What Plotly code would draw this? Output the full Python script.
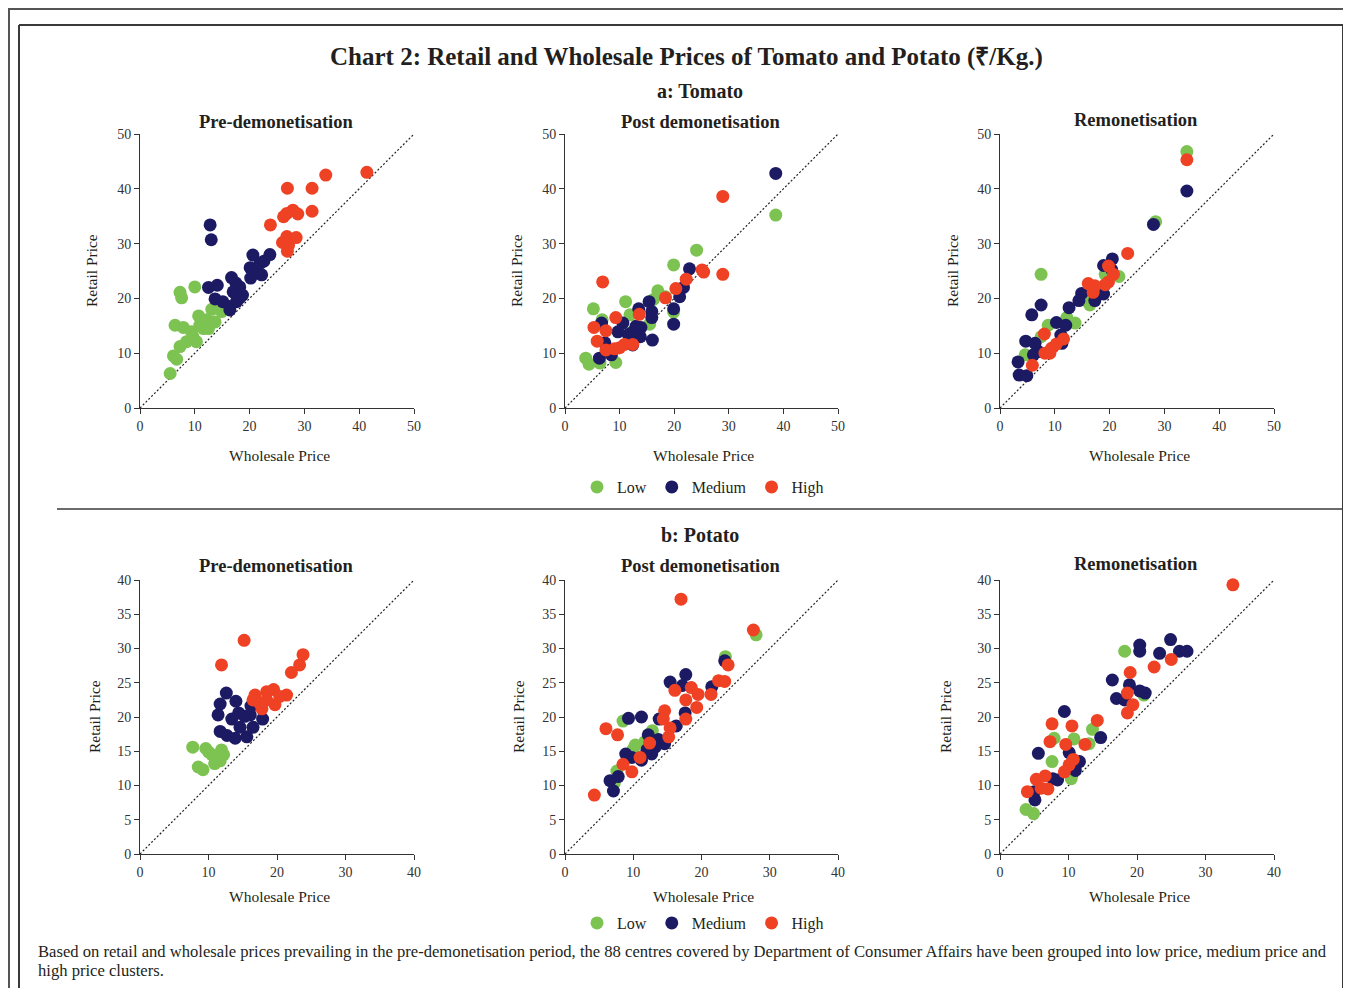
import plotly.graph_objects as go

W, H = 1351, 988

# ---------------- DATA ----------------
categories = ["Low", "Medium", "High"]
colors = ["#7dc352", "#1c1a63", "#ef4123"]
panel_titles = ["Pre-demonetisation", "Post demonetisation", "Remonetisation"]

# Tomato - Pre-demonetisation
tom_pre_low_x = [10.0, 7.3, 7.6, 10.7, 6.4, 7.9, 9.4, 11.6, 13.1, 14.3, 13.7, 12.5, 10.9, 9.7, 8.5, 10.3, 7.3, 6.1, 6.7, 5.5, 14.9, 12.2]
tom_pre_low_y = [22.1, 21.1, 20.1, 16.8, 15.1, 14.7, 13.9, 14.5, 18.0, 18.2, 15.7, 14.5, 15.1, 13.0, 12.1, 12.1, 11.2, 9.5, 8.9, 6.3, 17.6, 16.1]
tom_pre_med_x = [12.8, 13.0, 20.6, 23.7, 22.6, 21.9, 20.1, 21.3, 22.2, 20.2, 16.7, 12.5, 14.1, 17.5, 18.2, 17.0, 13.7, 15.1, 16.4, 16.4, 18.2, 17.6, 18.7]
tom_pre_med_y = [33.4, 30.7, 27.9, 28.0, 26.8, 26.4, 25.6, 25.2, 24.3, 23.7, 23.8, 22.0, 22.4, 22.8, 22.1, 21.2, 19.9, 19.4, 18.5, 17.9, 20.1, 19.4, 20.6]
tom_pre_high_x = [41.4, 33.9, 26.9, 31.4, 23.8, 26.2, 27.9, 28.8, 31.4, 26.8, 26.8, 28.5, 26.0, 26.9, 27.1]
tom_pre_high_y = [43.0, 42.5, 40.1, 40.1, 33.4, 34.9, 36.1, 35.4, 35.9, 35.5, 31.3, 31.1, 30.2, 28.6, 29.7]

# Tomato - Post demonetisation
tom_post_low_x = [38.6, 24.1, 19.9, 17.0, 18.4, 11.1, 5.2, 6.8, 15.5, 19.9, 11.9, 3.8, 4.4, 6.4, 9.3, 16.2, 12.5]
tom_post_low_y = [35.2, 28.8, 26.1, 21.4, 20.3, 19.4, 18.1, 16.1, 15.3, 17.5, 17.0, 9.1, 8.0, 8.2, 8.3, 19.8, 14.0]
tom_post_med_x = [38.6, 22.8, 21.7, 21.0, 15.4, 19.9, 19.9, 13.5, 15.9, 15.9, 16.0, 10.6, 6.7, 9.7, 13.0, 13.9, 12.2, 13.8, 7.3, 12.4, 6.3, 8.5, 11.6]
tom_post_med_y = [42.8, 25.4, 22.0, 20.3, 19.4, 18.1, 15.3, 18.1, 17.6, 16.5, 12.4, 15.5, 15.5, 13.9, 14.9, 14.7, 13.7, 13.0, 11.9, 11.5, 9.1, 9.7, 13.4]
tom_post_high_x = [28.9, 28.9, 25.1, 25.4, 22.2, 20.3, 18.4, 6.9, 13.6, 9.3, 5.3, 7.5, 5.9, 7.5, 9.1, 10.9, 12.4, 10.0]
tom_post_high_y = [38.6, 24.4, 25.2, 24.8, 23.5, 21.8, 20.1, 23.0, 17.1, 16.5, 14.7, 14.1, 12.2, 10.6, 10.8, 11.6, 11.6, 11.0]

# Tomato - Remonetisation
tom_rem_low_x = [34.1, 28.4, 7.5, 21.7, 16.4, 8.8, 13.7, 12.2, 7.5, 4.6, 15.5, 19.2]
tom_rem_low_y = [46.8, 34.0, 24.4, 24.0, 18.8, 15.1, 15.5, 16.5, 13.0, 9.7, 19.7, 24.4]
tom_rem_med_x = [34.1, 28.0, 20.5, 18.9, 20.4, 7.5, 5.8, 12.6, 14.9, 14.4, 17.3, 18.9, 10.3, 12.0, 4.7, 6.4, 7.0, 11.1, 11.3, 3.3, 3.5, 4.9, 6.1]
tom_rem_med_y = [39.6, 33.5, 27.2, 26.0, 25.2, 18.8, 17.0, 18.3, 20.9, 19.6, 19.6, 20.8, 15.6, 15.1, 12.2, 11.8, 10.3, 13.3, 11.8, 8.4, 6.0, 5.9, 9.7]
tom_rem_high_x = [34.1, 23.3, 19.8, 20.7, 19.8, 19.2, 16.1, 17.3, 17.0, 8.1, 5.9, 8.2, 9.4, 10.3, 11.6, 9.1]
tom_rem_high_y = [45.3, 28.2, 25.9, 24.4, 23.0, 22.5, 22.7, 22.3, 21.1, 13.5, 7.8, 10.0, 10.9, 11.7, 12.6, 10.0]

# Potato - Pre-demonetisation
pot_pre_low_x = [7.7, 9.6, 11.9, 10.5, 12.2, 10.9, 8.5, 9.2, 11.7, 10.0]
pot_pre_low_y = [15.6, 15.4, 15.2, 14.5, 14.5, 13.2, 12.7, 12.3, 13.6, 14.9]
pot_pre_med_x = [12.6, 11.7, 14.0, 16.2, 11.4, 14.4, 13.4, 17.9, 15.3, 11.7, 12.7, 13.9, 15.6, 14.6, 16.5, 16.1]
pot_pre_med_y = [23.5, 21.9, 22.3, 21.6, 20.3, 20.6, 19.7, 19.7, 20.1, 17.9, 17.3, 16.9, 17.1, 18.5, 18.5, 20.3]
pot_pre_high_x = [15.2, 11.9, 23.8, 23.3, 22.1, 21.4, 19.5, 18.5, 16.8, 16.5, 17.5, 19.7, 20.4, 18.5, 17.8]
pot_pre_high_y = [31.2, 27.6, 29.1, 27.6, 26.5, 23.2, 24.0, 23.7, 23.2, 22.5, 22.0, 21.8, 23.0, 22.5, 21.2]

# Potato - Post demonetisation
pot_post_low_x = [28.0, 23.5, 8.5, 12.8, 10.3, 10.0, 7.6, 7.2, 11.7]
pot_post_low_y = [32.0, 28.8, 19.4, 18.0, 15.9, 15.3, 12.1, 10.3, 16.4]
pot_post_med_x = [23.4, 17.7, 15.4, 17.2, 21.5, 9.3, 11.2, 13.8, 16.3, 17.6, 12.2, 13.7, 14.6, 13.2, 12.7, 11.2, 8.9, 9.8, 7.8, 6.6, 7.1, 12.0]
pot_post_med_y = [28.2, 26.2, 25.1, 24.6, 24.4, 19.8, 20.0, 19.7, 18.7, 20.6, 17.4, 16.7, 16.1, 15.6, 14.6, 13.7, 14.6, 14.1, 11.3, 10.7, 9.2, 15.2]
pot_post_high_x = [17.0, 27.6, 23.9, 22.5, 23.4, 21.4, 18.5, 19.5, 16.1, 17.7, 19.3, 17.7, 14.6, 14.4, 15.4, 15.2, 6.0, 7.7, 12.4, 11.0, 8.5, 9.8, 4.3]
pot_post_high_y = [37.2, 32.7, 27.6, 25.3, 25.2, 23.3, 24.3, 23.3, 23.9, 22.5, 21.4, 19.7, 20.9, 19.7, 18.4, 17.1, 18.3, 17.4, 16.2, 14.1, 13.1, 12.0, 8.6]

# Potato - Remonetisation
pot_rem_low_x = [18.2, 21.0, 13.5, 10.8, 7.9, 13.0, 7.6, 10.4, 3.8, 4.9]
pot_rem_low_y = [29.6, 23.2, 18.2, 16.8, 16.9, 16.1, 13.5, 11.0, 6.5, 5.9]
pot_rem_med_x = [24.9, 20.4, 20.4, 23.3, 26.2, 27.3, 16.4, 18.9, 20.4, 21.2, 17.0, 18.2, 9.4, 14.7, 5.6, 10.1, 11.6, 11.0, 8.4, 7.7, 5.1, 5.0]
pot_rem_med_y = [31.3, 30.5, 29.6, 29.3, 29.6, 29.6, 25.4, 24.7, 23.8, 23.5, 22.7, 22.5, 20.8, 17.0, 14.7, 14.8, 13.5, 12.2, 10.8, 11.0, 7.9, 9.1]
pot_rem_high_x = [34.0, 25.0, 22.5, 19.0, 18.6, 19.4, 18.6, 14.2, 7.6, 10.5, 7.3, 9.6, 12.4, 10.7, 10.1, 9.4, 5.3, 6.6, 6.0, 7.0, 4.0]
pot_rem_high_y = [39.3, 28.4, 27.3, 26.5, 23.5, 21.8, 20.6, 19.5, 19.0, 18.7, 16.4, 16.0, 16.0, 13.8, 13.0, 12.0, 10.9, 11.4, 9.6, 9.5, 9.1]

tomato_max = 50
potato_max = 40
tomato_ticks = [0, 10, 20, 30, 40, 50]
potato_xticks = [0, 10, 20, 30, 40]
potato_yticks = [0, 5, 10, 15, 20, 25, 30, 35, 40]

panels = [
    (0, 0, [(tom_pre_low_x, tom_pre_low_y), (tom_pre_med_x, tom_pre_med_y), (tom_pre_high_x, tom_pre_high_y)]),
    (0, 1, [(tom_post_low_x, tom_post_low_y), (tom_post_med_x, tom_post_med_y), (tom_post_high_x, tom_post_high_y)]),
    (0, 2, [(tom_rem_low_x, tom_rem_low_y), (tom_rem_med_x, tom_rem_med_y), (tom_rem_high_x, tom_rem_high_y)]),
    (1, 0, [(pot_pre_low_x, pot_pre_low_y), (pot_pre_med_x, pot_pre_med_y), (pot_pre_high_x, pot_pre_high_y)]),
    (1, 1, [(pot_post_low_x, pot_post_low_y), (pot_post_med_x, pot_post_med_y), (pot_post_high_x, pot_post_high_y)]),
    (1, 2, [(pot_rem_low_x, pot_rem_low_y), (pot_rem_med_x, pot_rem_med_y), (pot_rem_high_x, pot_rem_high_y)]),
]

# ---------------- LAYOUT GEOMETRY (page pixels) ----------------
col_px = [(140, 414), (565, 838), (1000, 1274)]
row_px = [(134, 408), (580, 854)]
FONT = "Liberation Serif"
TXT = "#231f20"
OFF = 8  # the page body margin shifts the figure by 8px


def fx(p):
    return (p - OFF) / W


def fy(p):
    return 1 - (p - OFF) / H


fig = go.Figure()
layout_axes = {}

for i, (r, c, series) in enumerate(panels):
    n = i + 1
    xa = "x" if n == 1 else f"x{n}"
    ya = "y" if n == 1 else f"y{n}"
    xkey = "xaxis" if n == 1 else f"xaxis{n}"
    ykey = "yaxis" if n == 1 else f"yaxis{n}"
    vmax = tomato_max if r == 0 else potato_max
    xt = tomato_ticks if r == 0 else potato_xticks
    yt = tomato_ticks if r == 0 else potato_yticks

    # 45-degree reference line
    fig.add_trace(go.Scatter(x=[0, vmax], y=[0, vmax], mode="lines",
                             line=dict(color="#222222", width=1.2, dash="2px,2px"),
                             xaxis=xa, yaxis=ya, showlegend=False, hoverinfo="skip"))
    for k, (xs, ys) in enumerate(series):
        fig.add_trace(go.Scatter(
            x=xs, y=ys, mode="markers", name=categories[k],
            marker=dict(color=colors[k], size=13, line=dict(width=0)),
            xaxis=xa, yaxis=ya,
            showlegend=(c == 0),
            legend="legend" if r == 0 else "legend2",
            cliponaxis=False,
        ))

    axis_common = dict(showgrid=False, zeroline=False, showline=True, linecolor="#333333",
                       linewidth=1, ticks="outside", ticklen=5, tickcolor="#333333",
                       tickfont=dict(family=FONT, size=14, color="#333333"),
                       range=[0, vmax], fixedrange=True, automargin=False)
    layout_axes[xkey] = dict(axis_common, domain=[fx(col_px[c][0]), fx(col_px[c][1])],
                             tickvals=xt, anchor=ya)
    layout_axes[ykey] = dict(axis_common, domain=[fy(row_px[r][1]), fy(row_px[r][0])],
                             tickvals=yt, anchor=xa)

annotations = []


def add_text(text, x, y, size, bold=False, angle=0, xanchor="center", align="center"):
    annotations.append(dict(
        text=f"<b>{text}</b>" if bold else text, x=fx(x), y=fy(y), xref="paper", yref="paper",
        showarrow=False, font=dict(family=FONT, size=size, color=TXT), textangle=angle,
        xanchor=xanchor, yanchor="middle", align=align))


add_text("Chart 2: Retail and Wholesale Prices of Tomato and Potato (₹/Kg.)", 686, 57, 25, bold=True)
add_text("a: Tomato", 700, 91, 20, bold=True)
add_text("b: Potato", 700, 535, 20, bold=True)

title_y = [[122, 122, 120], [566, 566, 564]]
xtitle_gap = [47, 42]
ytitle_x = [[92, 517, 953], [94, 518, 945]]
for r in range(2):
    for c in range(3):
        x0, x1 = col_px[c]
        y0, y1 = row_px[r]
        add_text(panel_titles[c], (x0 + x1) / 2 - 1, title_y[r][c], 18.5, bold=True)
        add_text("Wholesale Price", (x0 + x1) / 2 + 2, y1 + xtitle_gap[r], 15.5)
        add_text("Retail Price", ytitle_x[r][c], (y0 + y1) / 2, 15.5, angle=-90)

add_text("Based on retail and wholesale prices prevailing in the pre-demonetisation period, the 88 centres covered by "
         "Department of Consumer Affairs have been grouped into low price, medium price and",
         36, 951, 16.6, xanchor="left", align="left")
add_text("high price clusters.", 36, 970, 16.6, xanchor="left", align="left")

line_col = "#3a3a3a"
TOP_OUT = 9   # as close to the page top as the figure can reach
LEFT_OUT = 9
shapes = [
    dict(type="line", xref="paper", yref="paper", x0=fx(LEFT_OUT - 1), x1=fx(1351), y0=fy(TOP_OUT), y1=fy(TOP_OUT),
         line=dict(color="#555555", width=2)),
    dict(type="line", xref="paper", yref="paper", x0=fx(LEFT_OUT), x1=fx(LEFT_OUT), y0=fy(TOP_OUT), y1=fy(996),
         line=dict(color="#555555", width=2)),
    dict(type="line", xref="paper", yref="paper", x0=fx(19), x1=fx(1343), y0=fy(25), y1=fy(25),
         line=dict(color=line_col, width=2)),
    dict(type="line", xref="paper", yref="paper", x0=fx(19), x1=fx(19), y0=fy(25), y1=fy(996),
         line=dict(color=line_col, width=2)),
    dict(type="line", xref="paper", yref="paper", x0=fx(1343), x1=fx(1343), y0=fy(25), y1=fy(996),
         line=dict(color=line_col, width=2)),
    dict(type="line", xref="paper", yref="paper", x0=fx(57), x1=fx(1343), y0=fy(509), y1=fy(509),
         line=dict(color=line_col, width=1.5)),
]

legend_common = dict(orientation="h", xanchor="center", yanchor="middle", x=fx(703),
                     font=dict(family=FONT, size=16, color=TXT), bgcolor="rgba(0,0,0,0)",
                     itemwidth=30, tracegroupgap=0)

fig.update_layout(
    width=W, height=H, autosize=False,
    margin=dict(l=0, r=0, t=0, b=0, pad=0, autoexpand=False),
    paper_bgcolor="white", plot_bgcolor="white",
    showlegend=True,
    legend=dict(legend_common, y=fy(487)),
    legend2=dict(legend_common, y=fy(923)),
    annotations=annotations,
    shapes=shapes,
    **layout_axes,
)

fig.write_html("out.html")
